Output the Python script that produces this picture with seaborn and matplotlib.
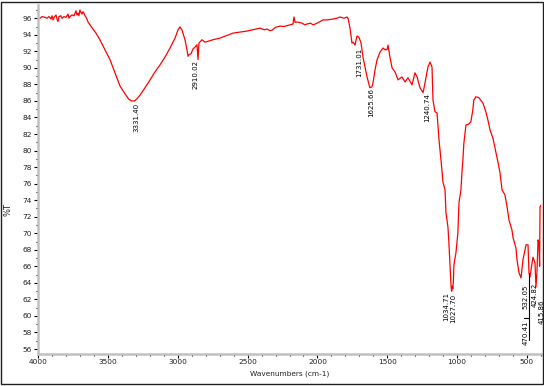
"""
plot.py
=======
FTIR transmittance spectrum (%T vs wavenumber) with labelled peaks.
"""

import matplotlib
matplotlib.use("Agg")
import matplotlib.pyplot as plt
from matplotlib.patches import Rectangle
from matplotlib.ticker import MultipleLocator
import seaborn as sns

# Spectrum (wavenumber cm-1, %T)
wavenumber = [
    4000, 3986, 3971, 3950, 3936, 3921, 3907, 3900, 3892, 3885, 3871, 3864, 3857, 3850,
    3836, 3828, 3814, 3800, 3785, 3778, 3771, 3757, 3742, 3728, 3721, 3714, 3707, 3700,
    3692, 3685, 3678, 3671, 3664, 3657, 3650, 3642, 3628, 3607, 3585, 3557, 3521, 3485,
    3449, 3413, 3377, 3350, 3331, 3310, 3292, 3270, 3234, 3198, 3163, 3127, 3091, 3055,
    3019, 2998, 2984, 2970, 2948, 2934, 2926, 2919, 2905, 2890, 2876, 2862, 2855, 2848,
    2826, 2805, 2748, 2697, 2604, 2504, 2411, 2380, 2361, 2340, 2325, 2300, 2268, 2240,
    2196, 2175, 2168, 2160, 2146, 2110, 2090, 2075, 2050, 2030, 2003, 1980, 1960, 1930,
    1889, 1860, 1839, 1810, 1789, 1781, 1767, 1753, 1745, 1731, 1717, 1703, 1688, 1674,
    1645, 1625, 1610, 1602, 1588, 1574, 1552, 1531, 1517, 1502, 1495, 1481, 1466, 1445,
    1423, 1395, 1373, 1352, 1323, 1302, 1287, 1266, 1244, 1230, 1209, 1194, 1180, 1173,
    1159, 1144, 1137, 1130, 1109, 1102, 1087, 1080, 1066, 1059, 1052, 1044, 1040, 1035,
    1031, 1027, 1023, 1009, 995, 987, 973, 966, 959, 952, 937, 916, 902, 888,
    881, 866, 845, 816, 795, 780, 765, 744, 729, 708, 693, 679, 658, 643,
    629, 608, 600, 579, 572, 557, 543, 529, 507, 493, 486, 479, 464, 457,
    443, 436, 429, 421, 414, 410, 407, 400,
]
transmittance = [
    96.0, 96.0, 96.2, 96.1, 96.0, 96.2, 95.9, 96.3, 95.8, 96.1, 96.4, 95.9, 95.6, 96.2,
    96.3, 96.0, 96.2, 96.1, 96.5, 96.0, 96.2, 96.4, 96.3, 96.9, 96.4, 96.6, 96.3, 97.0,
    96.7, 96.5, 96.8, 96.6, 96.3, 96.15, 95.9, 95.55, 95.2, 94.7, 94.2, 93.4, 92.2, 91.0,
    89.4, 87.8, 86.85, 86.2, 86.0, 86.0, 86.25, 86.7, 87.6, 88.55, 89.5, 90.35, 91.3, 92.4,
    93.6, 94.6, 94.95, 94.6, 93.4, 92.2, 91.4, 91.6, 91.7, 92.3, 92.5, 92.8, 91.0, 93.0,
    93.4, 93.1, 93.4, 93.6, 94.2, 94.45, 94.8, 94.6, 94.7, 94.5, 94.55, 94.9, 95.05, 95.0,
    95.2, 95.3, 96.15, 95.5, 95.55, 95.4, 95.2, 95.3, 95.4, 95.2, 95.4, 95.6, 95.8, 95.8,
    95.9, 96.0, 96.15, 96.0, 96.15, 96.0, 94.8, 93.0, 93.1, 92.75, 93.85, 93.7, 93.0, 91.3,
    88.9, 87.6, 87.7, 88.2, 89.75, 90.95, 91.9, 92.4, 92.2, 92.2, 92.75, 91.3, 90.0, 89.5,
    88.55, 88.9, 88.3, 88.8, 87.95, 89.4, 88.9, 87.6, 87.0, 88.2, 90.1, 90.7, 90.1, 86.1,
    84.7, 84.55, 82.85, 81.3, 77.65, 76.2, 75.25, 72.45, 70.75, 68.8, 66.5, 63.7, 63.0, 63.6,
    63.3, 64.2, 66.2, 67.6, 70.0, 73.7, 75.25, 77.3, 78.9, 80.9, 83.1, 83.2, 83.5, 84.9,
    86.1, 86.5, 86.4, 85.75, 84.7, 83.7, 82.5, 81.5, 80.3, 78.6, 77.3, 75.25, 74.65, 73.2,
    71.6, 70.4, 69.45, 68.2, 66.8, 65.2, 64.6, 66.8, 68.6, 68.6, 65.2, 64.7, 66.4, 67.1,
    66.4, 63.5, 65.2, 69.2, 68.8, 66.0, 73.2, 73.4,
]

# Peak labels and where their text sits (top of the rotated text)
peak_labels = ["3331.40", "2910.02", "1731.01", "1625.66", "1240.74", "1034.71",
               "1027.70", "532.05", "470.41", "424.82", "415.86"]
label_wn = [3299, 2873, 1699, 1617, 1212, 1080, 1030, 513, 513, 444, 398]
label_t = [85.8, 91.0, 92.4, 87.6, 87.0, 62.9, 62.7, 63.8, 59.5, 64.0, 62.0]

x_ticks = [4000, 3500, 3000, 2500, 2000, 1500, 1000, 500]
y_ticks = list(range(56, 97, 2))

W, H = 544, 386
sns.set_style("white")
plt.rcParams["font.family"] = ["DejaVu Sans"]

fig = plt.figure(figsize=(W / 100, H / 100), dpi=100)
ax = fig.add_axes([38 / W, 1 - 354 / H, 503 / W, 349 / H])

sns.lineplot(x=wavenumber, y=transmittance, sort=False, estimator=None,
             color="#ff0000", linewidth=0.9, ax=ax)

ax.set_xlim(4000, 400)
ax.set_ylim(55.4, 97.6)

ax.set_xticks(x_ticks)
ax.set_xticklabels([str(v) for v in x_ticks])
ax.set_yticks(y_ticks)
ax.set_yticklabels([str(v) for v in y_ticks])
ax.xaxis.set_minor_locator(MultipleLocator(100))
ax.yaxis.set_minor_locator(MultipleLocator(1))
ax.tick_params(which="major", direction="out", length=3, width=0.8, color="black",
               labelsize=5.3, labelcolor="#222222", pad=1.5)
ax.tick_params(which="minor", direction="out", length=1.5, width=0.8, color="black")
ax.tick_params(axis="x", which="major", pad=0.5)
ax.tick_params(axis="y", which="both", left=True)
ax.tick_params(axis="x", which="both", bottom=True)

for side in ["top", "right"]:
    ax.spines[side].set_visible(False)
for side in ["left", "bottom"]:
    ax.spines[side].set_color("#c0c0c0")
    ax.spines[side].set_linewidth(1.8)

ax.set_xlabel("Wavenumbers (cm-1)", fontsize=5.3, color="#222222")
ax.set_ylabel("%T", fontsize=6, color="#222222")
ax.xaxis.set_label_coords(0.5, -(374 - 354) / 349)
ax.xaxis.label.set_va("center")
ax.yaxis.set_label_coords(-(38 - 8) / 503, 0.413)
ax.yaxis.label.set_va("center")

for txt, x, y in zip(peak_labels, label_wn, label_t):
    ax.text(x, y, txt, rotation=90, ha="center", va="top", fontsize=5.0,
            color="black", clip_on=False)

# leader for the crowded 470.41 label
ax.plot([486, 486], [65.2, 57.1], color="black", linewidth=0.8)
ax.plot([486, 522], [59.8, 59.8], color="black", linewidth=0.8)

# outer frame
fig.patches.append(Rectangle((0.5 / W, 1 - 383.5 / H), 542 / W, 382 / H,
                             transform=fig.transFigure, fill=False,
                             edgecolor="#202020", linewidth=1.0))

fig.savefig("out.png", dpi=100)
plt.close(fig)
